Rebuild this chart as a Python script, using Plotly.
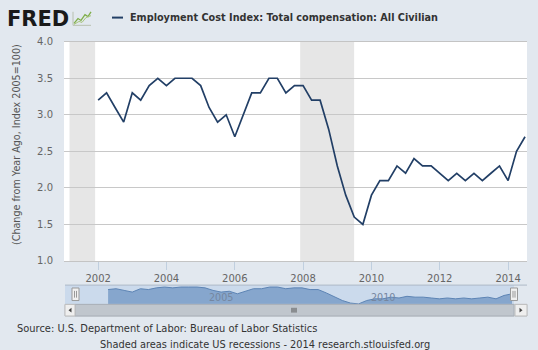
import plotly.graph_objects as go

W, H = 538, 350

def fx(x):
    return x / W

def fy(y):
    return 1 - y / H

# ---------------- data ----------------
years = list(range(2002, 2015))
quarter_months = ["01", "04", "07", "10"]
dates = [f"{y}-{m}-01" for y in years for m in quarter_months][:51]  # 2002Q1 .. 2014Q3

eci_change = [
    3.2, 3.3, 3.1, 2.9,   # 2002
    3.3, 3.2, 3.4, 3.5,   # 2003
    3.4, 3.5, 3.5, 3.5,   # 2004
    3.4, 3.1, 2.9, 3.0,   # 2005
    2.7, 3.0, 3.3, 3.3,   # 2006
    3.5, 3.5, 3.3, 3.4,   # 2007
    3.4, 3.2, 3.2, 2.8,   # 2008
    2.3, 1.9, 1.6, 1.5,   # 2009
    1.9, 2.1, 2.1, 2.3,   # 2010
    2.2, 2.4, 2.3, 2.3,   # 2011
    2.2, 2.1, 2.2, 2.1,   # 2012
    2.2, 2.1, 2.2, 2.3,   # 2013
    2.1, 2.5, 2.7,        # 2014
]

recession_starts = ["2001-03-01", "2007-12-01"]
recession_ends = ["2001-11-30", "2009-06-30"]

y_ticks = [1.0, 1.5, 2.0, 2.5, 3.0, 3.5, 4.0]
nav_labels = ["2005", "2010"]

series_name = "Employment Cost Index: Total compensation: All Civilian"
y_title = "(Change from Year Ago, Index 2005=100)"
source_text = "Source: U.S. Department of Labor: Bureau of Labor Statistics"
footer_text = "Shaded areas indicate US recessions - 2014 research.stlouisfed.org"

LINE = "#223f66"
FONT = "DejaVu Sans"
BG = "#e2e8ef"

fig = go.Figure()

fig.add_trace(go.Scatter(
    x=dates, y=eci_change, mode="lines",
    line=dict(color=LINE, width=1.7),
    xaxis="x", yaxis="y", showlegend=False, hoverinfo="skip",
))

# navigator area
fig.add_trace(go.Scatter(
    x=dates, y=eci_change, mode="lines", fill="tozeroy",
    line=dict(color="#5d84b4", width=1),
    fillcolor="#86a6cd",
    xaxis="x2", yaxis="y2", showlegend=False, hoverinfo="skip",
))

shapes = []
# main plot background
shapes.append(dict(type="rect", xref="paper", yref="paper",
                   x0=fx(64), x1=fx(527), y0=fy(264), y1=fy(37),
                   fillcolor="white", line=dict(width=0), layer="below"))
# recessions
for s, e in zip(recession_starts, recession_ends):
    shapes.append(dict(type="rect", xref="x", yref="y domain",
                       x0=s, x1=e, y0=0, y1=1,
                       fillcolor="#e6e6e6", line=dict(width=0), layer="below"))
# navigator background
shapes.append(dict(type="rect", xref="paper", yref="paper",
                   x0=fx(65), x1=fx(514), y0=fy(309), y1=fy(289),
                   fillcolor="#cbdaec", line=dict(width=0), layer="below"))
# navigator top border
shapes.append(dict(type="line", xref="paper", yref="paper",
                   x0=fx(65), x1=fx(527), y0=fy(289), y1=fy(289),
                   line=dict(color="#aeb9c6", width=1)))
# scrollbar track and bar
shapes.append(dict(type="rect", xref="paper", yref="paper",
                   x0=fx(65), x1=fx(527), y0=fy(321), y1=fy(309),
                   fillcolor="#dfe3e7", line=dict(color="#c4c9ce", width=1)))
shapes.append(dict(type="rect", xref="paper", yref="paper",
                   x0=fx(75), x1=fx(514), y0=fy(321), y1=fy(309),
                   fillcolor="#c0c6cd", line=dict(color="#a9b0b8", width=1)))
# scrollbar buttons
for x0, x1 in [(65, 75), (515, 527)]:
    shapes.append(dict(type="rect", xref="paper", yref="paper",
                       x0=fx(x0), x1=fx(x1), y0=fy(321), y1=fy(309),
                       fillcolor="#efefef", line=dict(color="#bdbdbd", width=1)))
# arrows
shapes.append(dict(type="path", xref="paper", yref="paper",
                   path=f"M {fx(71.5)} {fy(312.5)} L {fx(68.5)} {fy(315)} L {fx(71.5)} {fy(317.5)} Z",
                   fillcolor="#444", line=dict(width=0)))
shapes.append(dict(type="path", xref="paper", yref="paper",
                   path=f"M {fx(519.5)} {fy(312.5)} L {fx(522.5)} {fy(315)} L {fx(519.5)} {fy(317.5)} Z",
                   fillcolor="#444", line=dict(width=0)))
# grip
for gx in [292, 294, 296]:
    shapes.append(dict(type="line", xref="paper", yref="paper",
                       x0=fx(gx), x1=fx(gx), y0=fy(312.5), y1=fy(317.5),
                       line=dict(color="#555", width=1)))
# navigator handles
for hx in [75.5, 514]:
    shapes.append(dict(type="rect", xref="paper", yref="paper",
                       x0=fx(hx - 3.5), x1=fx(hx + 3.5), y0=fy(305), y1=fy(292),
                       fillcolor="#f0f0f0", line=dict(color="#999", width=1)))
    shapes.append(dict(type="line", xref="paper", yref="paper",
                       x0=fx(hx - 1), x1=fx(hx - 1), y0=fy(302), y1=fy(295),
                       line=dict(color="#999", width=1)))
    shapes.append(dict(type="line", xref="paper", yref="paper",
                       x0=fx(hx + 1), x1=fx(hx + 1), y0=fy(302), y1=fy(295),
                       line=dict(color="#999", width=1)))
# legend line sample
shapes.append(dict(type="line", xref="paper", yref="paper",
                   x0=fx(112), x1=fx(123), y0=fy(12), y1=fy(12),
                   line=dict(color=LINE, width=2)))
# FRED icon: small chart
shapes.append(dict(type="path", xref="paper", yref="paper",
                   path=f"M {fx(73)} {fy(6)} L {fx(73)} {fy(20)} L {fx(91)} {fy(20)}",
                   line=dict(color="#b8c0b0", width=1)))
shapes.append(dict(type="path", xref="paper", yref="paper",
                   path=(f"M {fx(74)} {fy(18)} L {fx(78)} {fy(13)} L {fx(81)} {fy(15)} "
                         f"L {fx(85)} {fy(9)} L {fx(88)} {fy(11)} L {fx(91)} {fy(6)}"),
                   line=dict(color="#7fae4a", width=1.3)))
shapes.append(dict(type="path", xref="paper", yref="paper",
                   path=(f"M {fx(74)} {fy(19)} L {fx(79)} {fy(16)} L {fx(82)} {fy(17)} "
                         f"L {fx(86)} {fy(12)} L {fx(91)} {fy(10)}"),
                   line=dict(color="#a7c47c", width=1)))

annotations = [
    dict(text="<b>FRED</b>", xref="paper", yref="paper", x=fx(5), y=fy(13),
         xanchor="left", yanchor="middle", showarrow=False,
         font=dict(family=FONT, size=21, color="#1a1a1a")),
    dict(text="<b>" + series_name + "</b>", xref="paper", yref="paper",
         x=fx(128), y=fy(12), xanchor="left", yanchor="middle", showarrow=False,
         font=dict(family=FONT, size=9.7, color="#333")),
    dict(text=y_title, xref="paper", yref="paper", x=fx(16), y=fy(144),
         xanchor="center", yanchor="middle", textangle=-90, showarrow=False,
         font=dict(family=FONT, size=9.6, color="#555")),
    dict(text=source_text, xref="paper", yref="paper", x=fx(15), y=fy(334),
         xanchor="left", yanchor="middle", showarrow=False,
         font=dict(family=FONT, size=9.9, color="#333")),
    dict(text=footer_text, xref="paper", yref="paper", x=fx(98), y=fy(350),
         xanchor="left", yanchor="middle", showarrow=False,
         font=dict(family=FONT, size=9.8, color="#333")),
]
for lab in nav_labels:
    annotations.append(dict(text=lab, xref="x2", yref="paper", x=f"{lab}-01-01",
                            y=fy(302), xanchor="left", yanchor="middle", xshift=2,
                            showarrow=False,
                            font=dict(family=FONT, size=9.6, color="#7586a0")))

fig.update_layout(
    width=W, height=H, autosize=False,
    margin=dict(l=0, r=0, t=0, b=0),
    paper_bgcolor=BG, plot_bgcolor="rgba(0,0,0,0)",
    font=dict(family=FONT, size=10, color="#666"),
    showlegend=False,
    shapes=shapes, annotations=annotations,
    xaxis=dict(domain=[fx(64), fx(527)], anchor="y", type="date",
               range=["2001-01-01", "2014-07-22"],
               tick0="2002-01-01", dtick="M24", tickformat="%Y",
               ticks="outside", ticklen=8, tickcolor="#c0cfdf", tickwidth=1,
               showgrid=False, showline=True, mirror=True,
               linecolor="#c4c4c4", linewidth=1,
               tickfont=dict(family=FONT, size=10, color="#666"),
               fixedrange=True),
    yaxis=dict(domain=[fy(264), fy(37)], anchor="x",
               range=[1.0, 4.0], tickvals=y_ticks, tickformat=".1f",
               showgrid=True, gridcolor="#c8c8c8", gridwidth=1,
               zeroline=False, showline=False, ticks="",
               ticklabelstandoff=10,
               tickfont=dict(family=FONT, size=10, color="#666"),
               fixedrange=True),
    xaxis2=dict(domain=[fx(65), fx(514)], anchor="y2", type="date",
                range=["2000-09-01", "2014-07-23"],
                showticklabels=False, showgrid=False, zeroline=False,
                showline=False, ticks="", fixedrange=True),
    yaxis2=dict(domain=[fy(309), fy(289)], anchor="x2",
                range=[1.44, 3.73], showticklabels=False, showgrid=False,
                zeroline=False, showline=False, ticks="", fixedrange=True),
)

fig.write_html("out.html", config={"displayModeBar": False})
